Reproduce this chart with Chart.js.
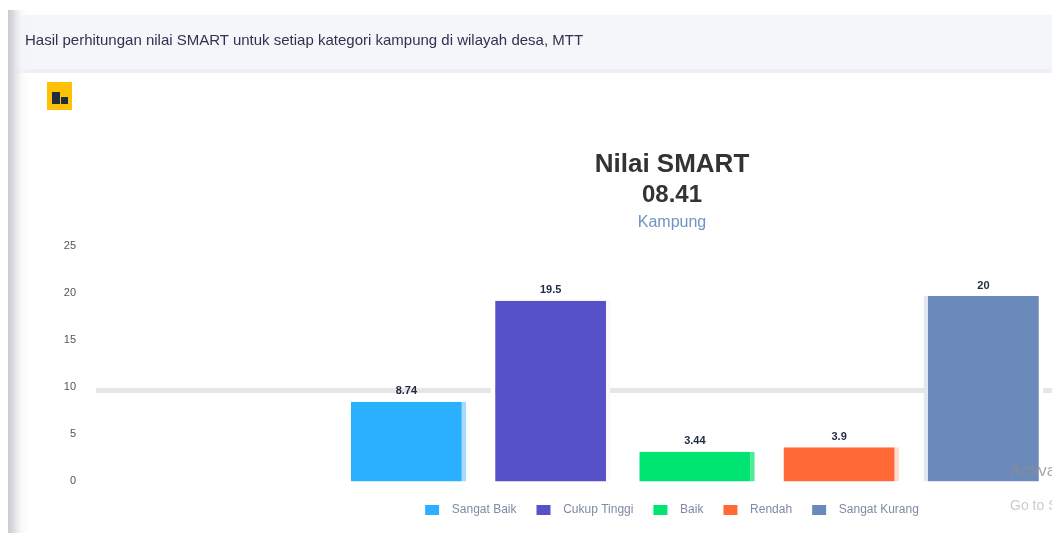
<!DOCTYPE html>
<html>
<head>
<meta charset="utf-8">
<title>Nilai SMART</title>
<script src="https://cdn.jsdelivr.net/npm/chart.js@4"></script>
<style>
  html, body { margin: 0; height: 100%; background: #fff; overflow: hidden; font-family: "Liberation Sans", sans-serif; }
  #gutter { position: absolute; left: 8px; top: 10px; bottom: 0; width: 24px;
            background: linear-gradient(to right, #cbcbd0 0, #d6d6da 4px, rgba(228,228,232,.9) 8px, rgba(244,244,246,.6) 13px, rgba(255,255,255,0) 22px); z-index: 2; }
  #header { position: absolute; left: 12px; right: 0; top: 15px; height: 54px; background: #f4f6fa; border-bottom: 4px solid #edeff3; }
  #headerText { position: absolute; left: 25px; top: 31px; font-size: 15px; line-height: 18px; color: #2c3450; white-space: nowrap; z-index: 3; }
  #icon { position: absolute; left: 47px; top: 82px; width: 25px; height: 28px; background: #ffc107; }
  #icon i { position: absolute; background: #1f2d3d; }
  #box { position: absolute; left: 0; top: 73px; }
  #third { position: absolute; left: 0; width: 1344px; top: 212px; text-align: center; font-size: 16px; line-height: 20px; color: #6f93c4; }
  #mark { position: absolute; left: 1010px; top: 460px; white-space: nowrap; color: rgba(140,140,140,.75); font-size: 17px; line-height: 22px; z-index: 4; }
  #mark small { display: block; font-size: 14px; margin-top: 12px; color: rgba(170,170,170,.6); }
</style>
</head>
<body>
<div id="header"></div>
<div id="gutter"></div>
<div id="headerText">Hasil perhitungan nilai SMART untuk setiap kategori kampung di wilayah desa, MTT</div>
<div id="icon"><i style="left:5px;top:10px;width:8px;height:12px"></i><i style="left:14px;top:15px;width:7px;height:7px"></i></div>
<div id="box"><canvas id="chart" width="1344" height="460"></canvas></div>
<div id="third">Kampung</div>
<div id="mark">Activate Windows<small>Go to Settings</small></div>

<script>
  var seriesNames = ['Sangat Baik', 'Cukup Tinggi', 'Baik', 'Rendah', 'Sangat Kurang'];
  var seriesValues = [8.74, 19.5, 3.44, 3.9, 20];
  var seriesColors = ['#2bafff', '#5651c6', '#00e572', '#ff6a36', '#6a8abb'];
  var edgeColors = [['#fff', '#a5dbff'], ['#fff', '#f8f8fd'], ['#fff', '#50ea96'], ['#fff', '#ffdcd0'], ['#e1e7f1', '#fff']];
  var yTicks = [0, 5, 10, 15, 20, 25];
  var titleText = 'Nilai SMART';
  var subtitleText = '08.41';

  // Bagian kosong di depan dan di belakang, grafik aslinya lebih lebar dari layar
  var categories = [''].concat(seriesNames, ['  ', '   ']);

  // Warna tepi kiri dan kanan batang berbeda
  function edgeColor(i) {
    return function (c) {
      var mid = c.chart.scales.x ? c.chart.scales.x.getPixelForValue(categories.indexOf(seriesNames[i])) : NaN;
      if (!isFinite(mid)) return '#fff';
      var g = c.chart.ctx.createLinearGradient(mid - 1, 0, mid + 1, 0);
      g.addColorStop(0.5, edgeColors[i][0]);
      g.addColorStop(0.5, edgeColors[i][1]);
      return g;
    };
  }

  var datasets = seriesNames.map(function (name, i) {
    return {
      label: name,
      data: [{ x: name, y: seriesValues[i] }],
      backgroundColor: seriesColors[i],
      borderColor: edgeColor(i),
      borderWidth: { left: 4.5, right: 4.5, top: 0, bottom: 0 },
      grouped: false,
      barPercentage: 0.83,
      categoryPercentage: 1
    };
  });

  // Tulis nilai di atas setiap batang
  var barLabels = {
    id: 'barLabels',
    afterDatasetsDraw: function (chart) {
      var ctx = chart.ctx;
      ctx.save();
      ctx.font = 'bold 11px "Liberation Sans"';
      ctx.textAlign = 'center';
      ctx.textBaseline = 'bottom';
      ctx.fillStyle = '#1f2a44';
      chart.data.datasets.forEach(function (ds, i) {
        var bar = chart.getDatasetMeta(i).data[0];
        ctx.fillText(String(seriesValues[i]), bar.x, bar.y - 5);
      });
      ctx.restore();
    }
  };

  new Chart(document.getElementById('chart'), {
    type: 'bar',
    plugins: [barLabels],
    data: { labels: categories, datasets: datasets },
    options: {
      responsive: false,
      animation: false,
      layout: { padding: { bottom: 7 } },
      plugins: {
        tooltip: { enabled: false },
        title: {
          display: true,
          text: titleText,
          color: '#333',
          font: { family: '"Liberation Sans"', size: 26, weight: 'bold' },
          padding: { top: 76, bottom: 1 }
        },
        subtitle: {
          display: true,
          text: subtitleText,
          color: '#333',
          font: { family: '"Liberation Sans"', size: 24, weight: 'bold' },
          padding: { top: 0, bottom: 39 }
        },
        legend: {
          position: 'bottom',
          labels: {
            boxWidth: 14,
            boxHeight: 10,
            padding: 20,
            color: '#7f8aa3',
            font: { family: '"Liberation Sans"', size: 12 },
            generateLabels: function (chart) {
              return Chart.defaults.plugins.legend.labels.generateLabels(chart).map(function (item) {
                item.lineWidth = 0;
                item.text = '\u00a0\u00a0' + item.text;
                return item;
              });
            }
          }
        }
      },
      scales: {
        x: { display: false, grid: { display: false } },
        y: {
          min: 0,
          max: 25,
          afterBuildTicks: function (axis) {
            axis.ticks = yTicks.map(function (v) { return { value: v }; });
          },
          afterFit: function (axis) { axis.width = 190; },
          border: { display: false },
          grid: {
            tickLength: 94,
            lineWidth: 5,
            color: function (c) { return c.tick.value === 10 ? '#e6e6e6' : 'transparent'; },
            tickColor: function (c) { return c.tick.value === 10 ? '#e6e6e6' : 'transparent'; }
          },
          ticks: {
            padding: 20,
            labelOffset: -3,
            color: '#555',
            font: { family: '"Liberation Sans"', size: 11 }
          }
        }
      }
    }
  });
</script>
</body>
</html>
